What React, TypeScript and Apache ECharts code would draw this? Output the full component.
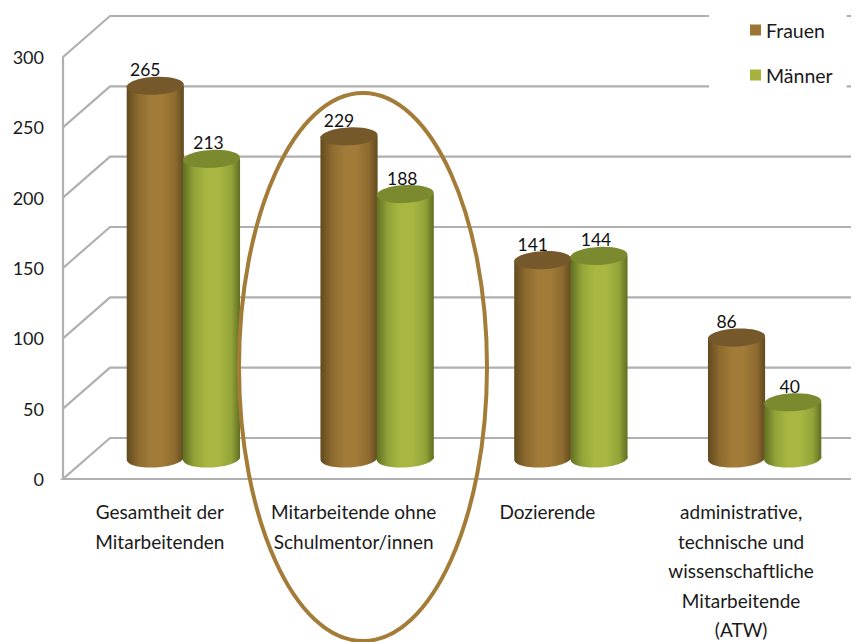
import React, { useEffect, useRef } from "react";
import * as echarts from "echarts";

const categories = [
  "Gesamtheit der\nMitarbeitenden",
  "Mitarbeitende ohne\nSchulmentor/innen",
  "Dozierende",
  "administrative,\ntechnische und\nwissenschaftliche\nMitarbeitende\n(ATW)",
];
const frauen = [265, 229, 141, 86];
const maenner = [213, 188, 144, 40];
const ticks = [0, 50, 100, 150, 200, 250, 300];

const FONT = 'Lato, "Open Sans", sans-serif';
const WALL = "#b0b0b0";
const DEPTH_X = 47;
const DEPTH_Y = -41;
const RIGHT_EDGE = 851;
const TILT = 0.05;

function gradient(edge: string, near: string, mid: string) {
  return new echarts.graphic.LinearGradient(0, 0, 1, 0, [
    { offset: 0, color: edge },
    { offset: 0.2, color: near },
    { offset: 0.42, color: mid },
    { offset: 0.62, color: mid },
    { offset: 0.85, color: near },
    { offset: 1, color: edge },
  ]);
}

function cylinder(side: number, edge: string, near: string, mid: string, cap: string, labelDx: number) {
  return (params: any, api: any) => {
    const cat = api.value(0);
    const val = api.value(1);
    const band = api.size([1, 0])[0];
    const top = api.coord([cat, val]);
    const base = api.coord([cat, 0]);
    const w = band * 0.295;
    const rx = w / 2;
    const ry = 9;
    const cx = top[0] + DEPTH_X / 2 + side * band * 0.145;
    const yt = top[1] + DEPTH_Y / 2;
    const yb = base[1] + DEPTH_Y / 2;
    const fill = gradient(edge, near, mid);
    return {
      type: "group",
      children: [
        {
          type: "ellipse",
          shape: { cx: 0, cy: 0, rx, ry },
          x: cx,
          y: yb,
          rotation: TILT,
          style: { fill },
        },
        { type: "rect", shape: { x: cx - rx, y: yt, width: w, height: yb - yt }, style: { fill } },
        {
          type: "ellipse",
          shape: { cx: 0, cy: 0, rx, ry },
          x: cx,
          y: yt,
          rotation: TILT,
          style: { fill: cap },
        },
        {
          type: "text",
          style: {
            text: String(val),
            x: cx + labelDx,
            y: yt - 16,
            align: "center",
            verticalAlign: "middle",
            fill: "#111",
            font: `17.5px ${FONT}`,
          },
        },
      ],
    };
  };
}

function wallLine(params: any, api: any) {
  const val = api.value(1);
  const sys = params.coordSys;
  const y = api.coord([0, val])[1];
  const x0 = sys.x;
  const points = [
    [x0, y],
    [x0 + DEPTH_X, y + DEPTH_Y],
    [RIGHT_EDGE, y + DEPTH_Y],
  ];
  if (val === 0) points.unshift([RIGHT_EDGE, y]);
  return {
    type: "polyline",
    shape: { points },
    style: { stroke: WALL, lineWidth: 2.2, fill: "none" },
    silent: true,
  };
}

export default function App() {
  const ref = useRef<HTMLDivElement>(null);
  useEffect(() => {
    const chart = echarts.init(ref.current!, null, { renderer: "svg" });
    chart.setOption({
      animation: false,
      backgroundColor: "#ffffff",
      color: ["#9c7433", "#a5b23b"],
      grid: { left: 63, top: 57, width: 775, height: 422, outerBoundsMode: "none" },
      legend: {
        data: ["Frauen", "Männer"],
        orient: "vertical",
        left: 709,
        top: 0,
        padding: [20, 14, 16, 41],
        itemWidth: 11,
        itemHeight: 11,
        itemGap: 25,
        backgroundColor: "#ffffff",
        textStyle: { fontFamily: FONT, fontSize: 19.5, color: "#1a1a1a" },
        icon: "rect",
        z: 20,
      },
      xAxis: {
        type: "category",
        data: categories,
        axisTick: { show: false },
        axisLine: { lineStyle: { color: WALL, width: 2.2 } },
        axisLabel: {
          interval: 0,
          margin: 18,
          color: "#1a1a1a",
          fontFamily: FONT,
          fontSize: 19,
          lineHeight: 29.5,
        },
      },
      yAxis: {
        type: "value",
        min: 0,
        max: 300,
        interval: 50,
        axisTick: { show: false },
        splitLine: { show: false },
        axisLine: { show: true, lineStyle: { color: WALL, width: 2.2 } },
        axisLabel: {
          margin: 19,
          color: "#1a1a1a",
          fontFamily: FONT,
          fontSize: 18,
          padding: [10, 0, 0, 0],
        },
      },
      series: [
        {
          type: "custom",
          name: "Wände",
          data: ticks.map((t) => [0, t]),
          encode: { x: 0, y: 1 },
          renderItem: wallLine,
          silent: true,
          z: 1,
        },
        {
          type: "custom",
          name: "Frauen",
          data: frauen.map((v, i) => [i, v]),
          encode: { x: 0, y: 1 },
          itemStyle: { color: "#9c7433" },
          renderItem: cylinder(-1, "#614a1e", "#8d6a2f", "#a27b38", "#76592a", -10),
          z: 3,
        },
        {
          type: "custom",
          name: "Männer",
          data: maenner.map((v, i) => [i, v]),
          encode: { x: 0, y: 1 },
          itemStyle: { color: "#a5b23b" },
          renderItem: cylinder(1, "#5f6f22", "#94a338", "#a9b742", "#7b8a2f", -3),
          z: 4,
        },
      ],
      graphic: [
        {
          type: "ellipse",
          shape: { cx: 363, cy: 367, rx: 124, ry: 274 },
          style: { fill: "none", stroke: "#a37c38", lineWidth: 4 },
          z: 10,
          silent: true,
        },
      ],
    });
    return () => chart.dispose();
  }, []);
  return <div ref={ref} style={{ position: "fixed", left: 0, top: 0, width: 856, height: 642 }} />;
}
